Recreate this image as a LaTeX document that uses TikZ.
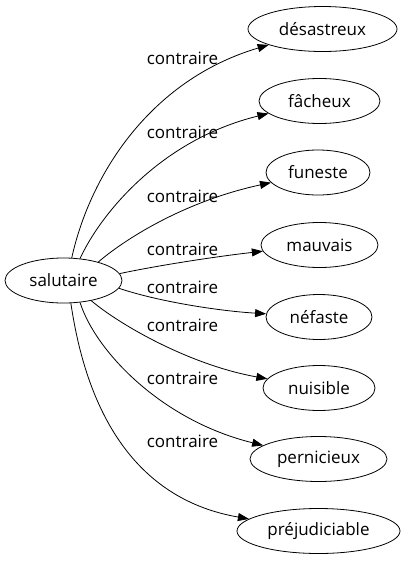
\documentclass[tikz,border=0pt]{standalone}
\usepackage{fontspec}
\setmainfont{Open Sans}
\usetikzlibrary{shapes.geometric,arrows.meta}
\tikzset{
  wnode/.style={draw, ellipse, line width=0.8pt, inner sep=0pt, minimum height=45pt, minimum width=#1, font=\fontsize{17}{20}\selectfont, text=black},
  elabel/.style={inner sep=0pt, font=\fontsize{17}{20}\selectfont, text=black},
  edge/.style={draw, line width=0.8pt, -{Triangle[length=11pt,width=8pt]}}
}
\begin{document}
\begin{tikzpicture}[x=1pt,y=-1pt]
\useasboundingbox (0,0) rectangle (407,563);
\node[wnode=117pt] (s) at (63.5,280.5) {salutaire};
\node[wnode=149pt] (t1) at (322.5,29) {désastreux};
\node[wnode=121pt] (t2) at (319.5,101) {fâcheux};
\node[wnode=104pt] (t3) at (318,172.5) {funeste};
\node[wnode=117pt] (t4) at (319.5,245) {mauvais};
\node[wnode=106pt] (t5) at (319,317) {néfaste};
\node[wnode=112pt] (t6) at (319,388) {nuisible};
\node[wnode=137pt] (t7) at (318.5,459) {pernicieux};
\node[wnode=163pt] (t8) at (318.5,531) {préjudiciable};

\path[edge] (s.70) .. controls (90,175) and (150,80) .. (t1);
\path[edge] (s.53) .. controls (100,215) and (160,140) .. (t2);
\path[edge] (s.28) .. controls (130,235) and (190,200) .. (t3);
\path[edge] (s.7) .. controls (160,265) and (220,256) .. (t4);
\path[edge] (s.-8) .. controls (160,302) and (220,311) .. (t5);
\path[edge] (s.-36) .. controls (120,325) and (190,365) .. (t6);
\path[edge] (s.-53) .. controls (95,350) and (160,420) .. (t7);
\path[edge] (s.-72) .. controls (88,420) and (140,500) .. (t8);

\node[elabel] (l1) at (182.5,58.5) {contraire};
\node[elabel] (l2) at (182.5,132) {contraire};
\node[elabel] (l3) at (182.5,196.5) {contraire};
\node[elabel] (l4) at (182.5,249.5) {contraire};
\node[elabel] (l5) at (182.5,287.5) {contraire};
\node[elabel] (l6) at (182.5,325) {contraire};
\node[elabel] (l7) at (182.5,378.5) {contraire};
\node[elabel] (l8) at (182.5,441.5) {contraire};
\end{tikzpicture}
\end{document}
